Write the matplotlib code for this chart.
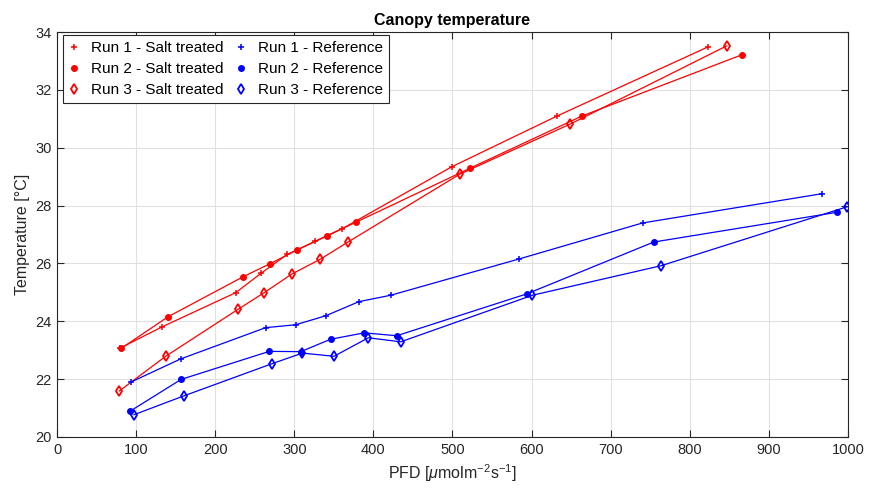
import matplotlib.pyplot as plt
import numpy as np

plt.rcParams['font.family'] = ['Liberation Sans', 'DejaVu Sans']
plt.rcParams['mathtext.fontset'] = 'custom'
plt.rcParams['mathtext.it'] = 'Liberation Sans:italic'
plt.rcParams['mathtext.rm'] = 'Liberation Sans'

# salt treated runs
salt1_pfd = [79.6, 133, 226, 258, 291, 326.6, 360.7, 499, 632.5, 823.4]
salt1_temp = [23.07, 23.81, 24.99, 25.66, 26.31, 26.76, 27.20, 29.34, 31.10, 33.49]
salt2_pfd = [81, 140, 234.7, 269.3, 303.8, 341.3, 377.6, 522, 664, 865.6]
salt2_temp = [23.06, 24.15, 25.53, 25.99, 26.47, 26.96, 27.42, 29.29, 31.10, 33.21]
salt3_pfd = [78.8, 137.4, 229.2, 262, 296.7, 332.5, 367.9, 509.5, 649, 846.6]
salt3_temp = [21.59, 22.79, 24.42, 24.99, 25.63, 26.14, 26.74, 29.09, 30.82, 33.52]

# reference runs
ref1_pfd = [93.6, 156.4, 263.8, 301.7, 339.7, 381.8, 421.9, 583.6, 740.4, 967.1]
ref1_temp = [21.90, 22.70, 23.78, 23.88, 24.19, 24.68, 24.90, 26.15, 27.40, 28.41]
ref2_pfd = [92.3, 156.8, 268.4, 308.1, 346, 388.5, 429.5, 594.2, 754.5, 986.5]
ref2_temp = [20.89, 21.99, 22.96, 22.95, 23.38, 23.60, 23.50, 24.95, 26.74, 27.77]
ref3_pfd = [97.3, 160.2, 271.4, 310.2, 350.2, 393.6, 434.5, 601, 763.6, 999.1]
ref3_temp = [20.77, 21.42, 22.53, 22.90, 22.79, 23.43, 23.29, 24.90, 25.92, 27.96]

fig = plt.figure(figsize=(8.69, 4.98), dpi=100)
ax = fig.add_axes([0.0656, 0.1225, 0.9102, 0.8132])

red = (1, 0, 0)
blue = (0, 0, 1)
ax.plot(salt1_pfd, salt1_temp, '-+', color=red, lw=0.9, ms=4.5, mew=1.1, label='Run 1 - Salt treated')
ax.plot(salt2_pfd, salt2_temp, '-o', color=red, lw=0.9, ms=4, label='Run 2 - Salt treated')
ax.plot(salt3_pfd, salt3_temp, '-d', color=red, lw=0.9, ms=4.8, mfc='none', mew=1.3, label='Run 3 - Salt treated')
ax.plot(ref1_pfd, ref1_temp, '-+', color=blue, lw=0.9, ms=4.5, mew=1.1, label='Run 1 - Reference')
ax.plot(ref2_pfd, ref2_temp, '-o', color=blue, lw=0.9, ms=4, label='Run 2 - Reference')
ax.plot(ref3_pfd, ref3_temp, '-d', color=blue, lw=0.9, ms=4.8, mfc='none', mew=1.3, label='Run 3 - Reference')

ax.set_xlim(0, 1000)
ax.set_ylim(20, 34)
ax.set_xticks(np.arange(0, 1001, 100))
ax.set_yticks(np.arange(20, 35, 2))
ax.grid(True, color=(0.88, 0.88, 0.88), lw=0.8)
ax.set_axisbelow(True)
ax.tick_params(direction='in', length=5, width=0.8, top=True, right=True,
               labelsize=10.5, colors=(0.15, 0.15, 0.15), pad=4)
for s in ax.spines.values():
    s.set_color((0.15, 0.15, 0.15))
    s.set_linewidth(0.8)

ax.set_title('Canopy temperature', fontsize=11.5, fontweight='bold', pad=5)
ax.set_xlabel(r'PFD [$\mu$molm$^{-2}$s$^{-1}$]', fontsize=11.5, color=(0.15, 0.15, 0.15))
ax.set_ylabel('Temperature [\u00b0C]', fontsize=11.5, color=(0.15, 0.15, 0.15))

leg = ax.legend(ncol=2, loc='upper left', bbox_to_anchor=(0.0076, 0.9925), borderaxespad=0,
                fontsize=11, handlelength=0.6, handletextpad=0.8, columnspacing=0.9,
                fancybox=False, framealpha=1, borderpad=0.4, labelspacing=0.45,
                edgecolor=(0.15, 0.15, 0.15), numpoints=1)
for h in leg.legend_handles:
    h.set_linestyle('none')
leg.get_frame().set_linewidth(0.8)

fig.savefig('out.png', dpi=100)
